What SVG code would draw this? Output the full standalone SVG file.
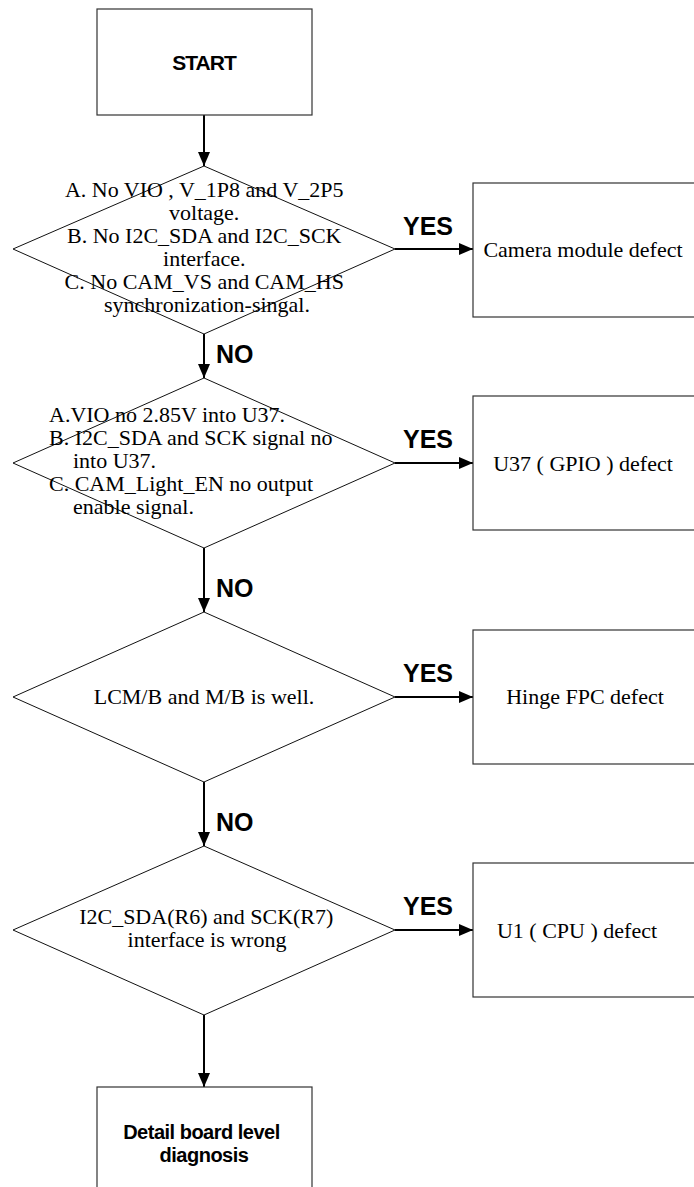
<svg xmlns="http://www.w3.org/2000/svg" width="694" height="1187" viewBox="0 0 694 1187">
<style>
.box{fill:#fff;stroke:#333;stroke-width:1.2}
.dia{fill:#fff;stroke:#111;stroke-width:1}
.t{font-family:"Liberation Serif","Times New Roman",serif;font-size:22px;fill:#000}
.b{font-family:"Liberation Sans",Arial,sans-serif;font-weight:bold;fill:#000}
.lbl{font-family:"Liberation Sans",Arial,sans-serif;font-weight:bold;font-size:25px;fill:#000}
.c{stroke:#000;stroke-width:2;fill:none}
</style>
<defs>
<marker id="ah" markerUnits="userSpaceOnUse" markerWidth="14" markerHeight="12" refX="14" refY="6" orient="auto">
<path d="M0,0 L14,6 L0,12 z" fill="#000"/>
</marker>
</defs>
<rect width="694" height="1187" fill="#fff"/>
<g id="connectors">
<path class="c" d="M204,115 L204,166" marker-end="url(#ah)"/>
<path class="c" d="M204,334 L204,378" marker-end="url(#ah)"/>
<path class="c" d="M204,548 L204,612" marker-end="url(#ah)"/>
<path class="c" d="M204,782 L204,846" marker-end="url(#ah)"/>
<path class="c" d="M204,1015 L204,1087" marker-end="url(#ah)"/>
<path class="c" d="M395,249 L473,249" marker-end="url(#ah)"/>
<path class="c" d="M395,463 L473,463" marker-end="url(#ah)"/>
<path class="c" d="M395,697 L473,697" marker-end="url(#ah)"/>
<path class="c" d="M395,930 L473,930" marker-end="url(#ah)"/>
<text class="lbl" x="216" y="363">NO</text>
<text class="lbl" x="216" y="597">NO</text>
<text class="lbl" x="216" y="831">NO</text>
<text class="lbl" x="403" y="235">YES</text>
<text class="lbl" x="403" y="448">YES</text>
<text class="lbl" x="403" y="682">YES</text>
<text class="lbl" x="403" y="915">YES</text>
</g>
<g id="start">
<rect class="box" x="97" y="9" width="215" height="106"/>
<text class="b" x="204" y="70" font-size="21" text-anchor="middle" letter-spacing="-1">START</text>
</g>
<g id="d1">
<polygon class="dia" points="204,166 395,249 204,334 13,249"/>
<text class="t" text-anchor="middle">
<tspan x="207" y="197">A. No VIO , V_1P8 and V_2P5</tspan>
<tspan x="207" y="220">voltage.</tspan>
<tspan x="207" y="243">B. No I2C_SDA and I2C_SCK</tspan>
<tspan x="207" y="266">interface.</tspan>
<tspan x="207" y="289">C. No CAM_VS and CAM_HS</tspan>
<tspan x="207" y="312">synchronization-singal.</tspan>
</text>
</g>
<g id="b1">
<rect class="box" x="473" y="183" width="240" height="134"/>
<text class="t" x="583" y="257" text-anchor="middle">Camera module defect</text>
</g>
<g id="d2">
<polygon class="dia" points="204,378 395,463 204,548 13,463"/>
<text class="t">
<tspan x="49" y="422">A.VIO no 2.85V into U37.</tspan>
<tspan x="49" y="445">B. I2C_SDA and SCK signal no</tspan>
<tspan x="73" y="468">into U37.</tspan>
<tspan x="49" y="491">C. CAM_Light_EN no output</tspan>
<tspan x="73" y="514">enable signal.</tspan>
</text>
</g>
<g id="b2">
<rect class="box" x="473" y="396" width="240" height="134"/>
<text class="t" x="583" y="471" text-anchor="middle">U37 ( GPIO ) defect</text>
</g>
<g id="d3">
<polygon class="dia" points="204,612 395,697 204,782 13,697"/>
<text class="t" x="204" y="704" text-anchor="middle">LCM/B and M/B is well.</text>
</g>
<g id="b3">
<rect class="box" x="473" y="630" width="240" height="134"/>
<text class="t" x="585" y="704" text-anchor="middle">Hinge FPC defect</text>
</g>
<g id="d4">
<polygon class="dia" points="204,846 395,930 204,1015 13,930"/>
<text class="t" text-anchor="middle">
<tspan x="209" y="924">I2C_SDA(R6) and SCK(R7)</tspan>
<tspan x="207" y="947">interface is wrong</tspan>
</text>
</g>
<g id="b4">
<rect class="box" x="473" y="863" width="240" height="134"/>
<text class="t" x="577" y="938" text-anchor="middle">U1 ( CPU ) defect</text>
</g>
<g id="end">
<rect class="box" x="97" y="1087" width="215" height="120"/>
<text class="b" font-size="20" text-anchor="middle" letter-spacing="-0.5">
<tspan x="204" y="1139">Detail board level</tspan>
<tspan x="204" y="1162">diagnosis</tspan>
</text>
</g>
</svg>
